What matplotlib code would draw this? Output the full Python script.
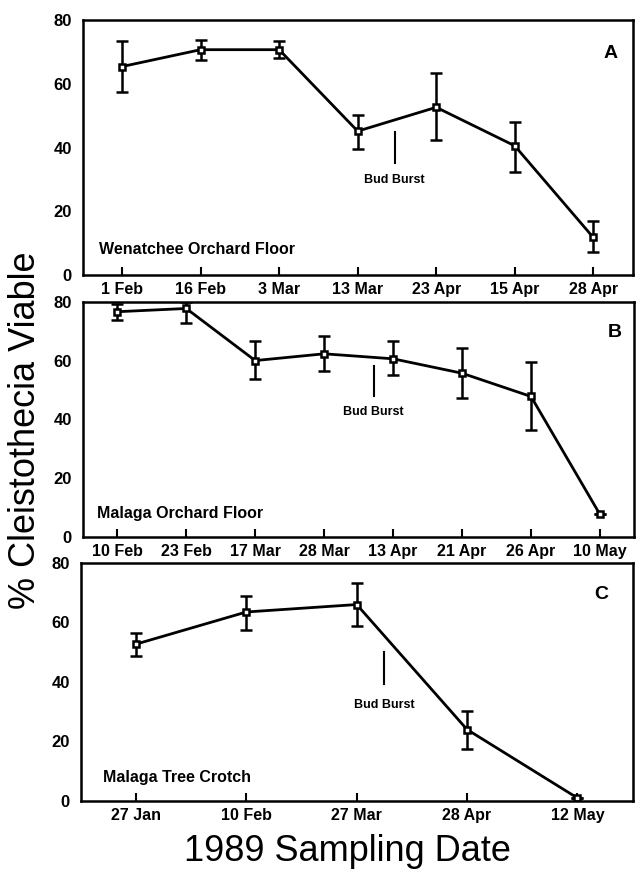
import matplotlib
matplotlib.use("Agg")
import matplotlib.pyplot as plt

plt.rcParams['font.family'] = ['Liberation Sans', 'DejaVu Sans']

# panel A - Wenatchee orchard floor
dates_a = ['1 Feb', '16 Feb', '3 Mar', '13 Mar', '23 Apr', '15 Apr', '28 Apr']
viable_a = [65.5, 70.8, 70.8, 45.2, 52.7, 40.6, 11.8]
err_lo_a = [7.9, 3.2, 2.6, 5.5, 10.3, 8.1, 4.7]
err_hi_a = [7.9, 3.0, 2.6, 5.1, 10.8, 7.6, 5.2]

# panel B - Malaga orchard floor
dates_b = ['10 Feb', '23 Feb', '17 Mar', '28 Mar', '13 Apr', '21 Apr', '26 Apr', '10 May']
viable_b = [76.6, 77.7, 60.0, 62.3, 60.6, 55.7, 47.8, 7.7]
err_lo_b = [2.9, 4.9, 6.1, 5.8, 5.4, 8.3, 11.3, 0.0]
err_hi_b = [2.5, 2.1, 6.5, 6.2, 5.9, 8.5, 11.6, 0.0]

# panel C - Malaga tree crotch
dates_c = ['27 Jan', '10 Feb', '27 Mar', '28 Apr', '12 May']
viable_c = [52.7, 63.5, 66.0, 24.0, 1.0]
err_lo_c = [3.9, 6.0, 7.3, 6.7, 0.0]
err_hi_c = [3.7, 5.3, 7.3, 6.3, 0.0]

panels = [
    (dates_a, viable_a, err_lo_a, err_hi_a, 'Wenatchee Orchard Floor', 'A', 3.47, (35.1, 44.8), 29.7),
    (dates_b, viable_b, err_lo_b, err_hi_b, 'Malaga Orchard Floor', 'B', 3.72, (47.8, 58.3), 42.5),
    (dates_c, viable_c, err_lo_c, err_hi_c, 'Malaga Tree Crotch', 'C', 2.25, (39.2, 50.2), 32.2),
]

fig = plt.figure(figsize=(6.37, 8.72), dpi=100)
boxes = [
    [0.130, 0.6846, 0.863, 0.292],
    [0.130, 0.384, 0.866, 0.270],
    [0.127, 0.0815, 0.866, 0.273],
]

for box, (dates, vals, lo, hi, site, letter, bud_x, bud_y, bud_ty) in zip(boxes, panels):
    ax = fig.add_axes(box)
    x = list(range(len(dates)))
    ax.errorbar(x, vals, yerr=[lo, hi], color='black', lw=2, elinewidth=1.8,
                capsize=4, capthick=1.8, marker='s', ms=5, mfc='white', mec='black', mew=1.8)
    ax.set_xlim(-0.5, len(dates) - 0.5)
    ax.set_ylim(0, 80)
    ax.set_yticks([0, 20, 40, 60, 80])
    ax.set_xticks(x)
    ax.set_xticklabels(dates)
    for lab in ax.get_xticklabels():
        lab.set_fontweight('bold')
        lab.set_fontsize(11.5)
    for lab in ax.get_yticklabels():
        lab.set_fontweight('bold')
        lab.set_fontsize(12)
    ax.tick_params(axis='x', direction='in', length=6, width=1.5, pad=5)
    ax.tick_params(axis='y', length=0, pad=8)
    for sp in ax.spines.values():
        sp.set_linewidth(1.8)
    # bud burst marker
    ax.plot([bud_x, bud_x], bud_y, color='black', lw=1.5)
    ax.text(bud_x, bud_ty, 'Bud Burst', ha='center', va='center', fontsize=9, fontweight='bold')
    ax.text(-0.3, 8, site, ha='left', va='center', fontsize=11.5, fontweight='bold')
    ax.text(len(dates) - 0.78, 69.5, letter, ha='center', va='center', fontsize=14, fontweight='bold')

fig.text(0.04, 0.507, '% Cleistothecia Viable', rotation=90, ha='center', va='center', fontsize=26)
fig.text(0.545, 0.024, '1989 Sampling Date', ha='center', va='center', fontsize=26)

plt.savefig('out.png', dpi=100)
